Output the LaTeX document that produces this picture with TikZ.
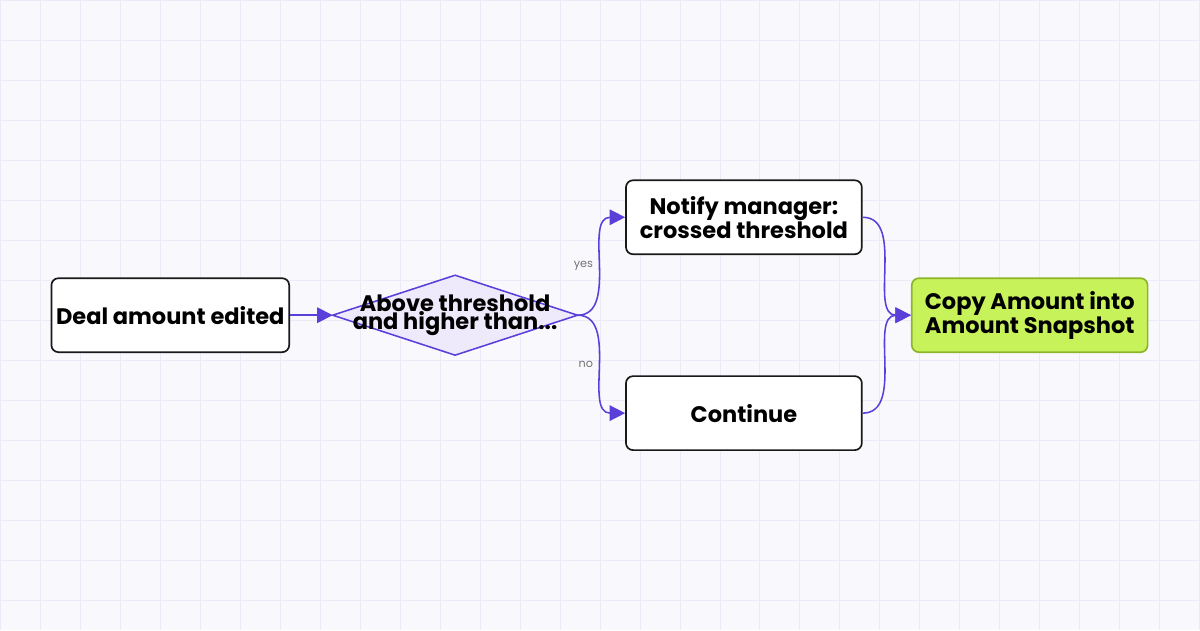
\documentclass[tikz,border=0pt]{standalone}
\usepackage{fontspec}
\setmainfont{Poppins}
\usetikzlibrary{shapes.geometric,arrows.meta}
\definecolor{flow}{HTML}{5B3FD9}
\definecolor{gridc}{HTML}{ECEAF7}
\definecolor{bgc}{HTML}{F9F9FD}
\definecolor{lime}{HTML}{C8F25A}
\definecolor{limeb}{HTML}{8DB52C}
\definecolor{dia}{HTML}{EEE9FB}
\tikzset{
	box/.style={draw=black!90, line width=1.2pt, rounded corners=5pt, fill=white, minimum width=5.9cm, minimum height=1.85cm, align=center, font=\bfseries\fontsize{16}{14}\selectfont},
	link/.style={draw=flow, line width=1.1pt, -{Triangle[length=11pt,width=11pt]}},
	tag/.style={font=\fontsize{8}{8}\selectfont, text=black!55}
}
\begin{document}
\begin{tikzpicture}
		\fill[bgc] (0,0) rectangle (30,-15.75);						% Fundo
		\draw[gridc, line width=0.6pt] (0,-15.75) grid (30,0);			% Grade
		\useasboundingbox (0,0) rectangle (30,-15.75);
		
		% Caixas
		\node[box] (edited) at (4.25,-7.875) {Deal amount edited};
		\node[minimum width=6.125cm, minimum height=2cm, inner sep=0pt, outer sep=0pt] (check) at (11.375,-7.875) {};
		\draw[flow, line width=1.1pt, fill=dia] (check.west) -- (check.north) -- (check.east) -- (check.south) -- cycle;
		\node[align=center, font=\bfseries\fontsize{16}{13}\selectfont, inner sep=0pt] (checktxt) at (check.center) {Above threshold\\and higher than...};
		\node[box] (notify) at (18.6,-5.425) {Notify manager:\\crossed threshold};
		\node[box] (cont) at (18.6,-10.325) {Continue};
		\node[box, draw=limeb, fill=lime] (copy) at (25.75,-7.875) {Copy Amount into\\Amount Snapshot};
		
		% Setas
		\draw[link] (edited.east) -- (check.west);
		\draw[link] (check.east) to[out=0,in=180] node[tag, pos=0.5, left=2pt] {yes} (notify.west);
		\draw[link] (check.east) to[out=0,in=180] node[tag, pos=0.5, left=2pt] {no} (cont.west);
		\draw[link] (notify.east) to[out=0,in=180] (copy.west);
		\draw[link] (cont.east) to[out=0,in=180] (copy.west);
	\end{tikzpicture}
\end{document}
